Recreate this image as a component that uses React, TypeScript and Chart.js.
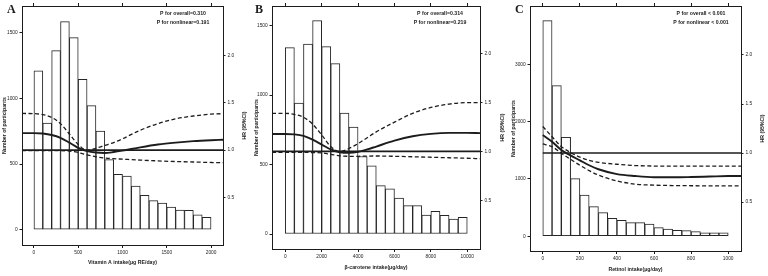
import React, { useEffect, useRef } from 'react';
import { Chart, registerables } from 'chart.js';

Chart.register(...registerables);

const FONT = "'Liberation Sans', Arial, sans-serif";
const SERIF = "'Liberation Serif', 'Times New Roman', serif";
const INK = '#1c1c1c';

// ---------- shared ----------
const HR_TICKS = [0.5, 1.0, 1.5, 2.0];
const REF_HR = 1.0;
const COUNT_TITLE = 'Number of participants';
const HR_TITLE = 'HR (95%CI)';

// ---------- Panel A: Vitamin A ----------
const A_BIN_CENTERS = [50, 150, 250, 350, 450, 550, 650, 750, 850, 950, 1050, 1150, 1250, 1350, 1450, 1550, 1650, 1750, 1850, 1950];
const A_COUNTS = [1208, 812, 1362, 1583, 1461, 1144, 944, 751, 533, 422, 409, 333, 262, 221, 203, 173, 150, 148, 114, 95];
const A_CURVE_X = [-135, 0, 100, 200, 300, 400, 500, 600, 700, 800, 900, 1000, 1200, 1400, 1600, 1800, 2000, 2135];
const A_HR = [1.18, 1.18, 1.175, 1.16, 1.13, 1.08, 1.025, 0.99, 0.975, 0.97, 0.98, 0.995, 1.03, 1.06, 1.08, 1.095, 1.105, 1.11];
const A_HR_HIGH = [1.387, 1.385, 1.375, 1.345, 1.28, 1.17, 1.06, 1.0, 1.02, 1.05, 1.08, 1.12, 1.21, 1.28, 1.33, 1.36, 1.38, 1.385];
const A_HR_LOW = [0.995, 0.995, 0.995, 0.995, 0.995, 0.99, 0.975, 0.95, 0.93, 0.918, 0.91, 0.905, 0.895, 0.887, 0.88, 0.875, 0.87, 0.868];
const A_REF_X = [-135, 2135];
const A_X_TICKS = [0, 500, 1000, 1500, 2000];
const A_COUNT_TICKS = [0, 500, 1000, 1500];
const A_X_TITLE = 'Vitamin A intake(μg RE/day)';
const A_P_TEXT = ['P for overall=0.310', 'P for nonlinear=0.191'];

// ---------- Panel B: beta-carotene ----------
const B_BIN_CENTERS = [250, 750, 1250, 1750, 2250, 2750, 3250, 3750, 4250, 4750, 5250, 5750, 6250, 6750, 7250, 7750, 8250, 8750, 9250, 9750];
const B_COUNTS = [1342, 942, 1367, 1537, 1350, 1227, 870, 770, 558, 491, 348, 326, 259, 204, 204, 137, 163, 134, 108, 120];
const B_CURVE_X = [-730, 0, 500, 1000, 1500, 2000, 2500, 3000, 3500, 4000, 4500, 5000, 6000, 7000, 8000, 9000, 10000, 10700];
const B_HR = [1.178, 1.178, 1.175, 1.16, 1.12, 1.07, 1.02, 0.99, 0.985, 0.995, 1.02, 1.05, 1.11, 1.155, 1.18, 1.19, 1.19, 1.187];
const B_HR_HIGH = [1.39, 1.39, 1.38, 1.35, 1.28, 1.17, 1.05, 1.0, 1.03, 1.08, 1.14, 1.2, 1.3, 1.39, 1.45, 1.485, 1.5, 1.5];
const B_HR_LOW = [0.99, 0.99, 0.99, 0.99, 0.988, 0.985, 0.97, 0.955, 0.95, 0.95, 0.952, 0.953, 0.95, 0.945, 0.94, 0.935, 0.93, 0.925];
const B_REF_X = [-730, 10700];
const B_X_TICKS = [0, 2000, 4000, 6000, 8000, 10000];
const B_COUNT_TICKS = [0, 500, 1000, 1500];
const B_X_TITLE = 'β-carotene intake(μg/day)';
const B_P_TEXT = ['P for overall=0.314', 'P for nonlinear=0.219'];

// ---------- Panel C: Retinol ----------
const C_BIN_CENTERS = [25, 75, 125, 175, 225, 275, 325, 375, 425, 475, 525, 575, 625, 675, 725, 775, 825, 875, 925, 975];
const C_COUNTS = [3763, 2628, 1728, 1005, 721, 517, 412, 314, 279, 237, 237, 215, 150, 127, 104, 98, 81, 60, 58, 58];
const C_CURVE_X = [0, 50, 100, 150, 200, 250, 300, 400, 500, 600, 700, 800, 900, 1000, 1069];
const C_HR = [1.184, 1.115, 1.03, 0.975, 0.925, 0.875, 0.834, 0.785, 0.765, 0.753, 0.752, 0.755, 0.76, 0.765, 0.766];
const C_HR_HIGH = [1.27, 1.166, 1.065, 1.005, 0.958, 0.925, 0.905, 0.885, 0.872, 0.867, 0.866, 0.866, 0.866, 0.866, 0.866];
const C_HR_LOW = [1.092, 1.064, 0.998, 0.935, 0.875, 0.82, 0.775, 0.715, 0.682, 0.672, 0.668, 0.666, 0.665, 0.664, 0.664];
const C_REF_X = [0, 1069];
const C_X_TICKS = [0, 200, 400, 600, 800, 1000];
const C_COUNT_TICKS = [0, 1000, 2000, 3000];
const C_X_TITLE = 'Retinol intake(μg/day)';
const C_P_TEXT = ['P for overall < 0.001', 'P for nonlinear < 0.001'];

type PanelSpec = {
  letter: string;
  canvasLeft: number; canvasWidth: number;
  boxLeft: number; boxRight: number; boxTop: number; boxBottom: number;
  xMin: number; xMax: number; countMin: number; countMax: number; hrMin: number; hrMax: number;
  binCenters: number[]; counts: number[];
  curveX: number[]; hr: number[]; hrLow: number[]; hrHigh: number[];
  refX: number[];
  xTicks: number[]; countTicks: number[];
  xTitle: string; pText: string[];
  leftTitleX: number; rightTitleX: number; xTitleY: number; letterX: number;
};

const H = 276;

const PANELS: PanelSpec[] = [
  {
    letter: 'A', canvasLeft: 0, canvasWidth: 250,
    boxLeft: 22, boxRight: 223, boxTop: 6, boxBottom: 245,
    xMin: -135, xMax: 2135, countMin: -116, countMax: 1702, hrMin: 0, hrMax: 2.52,
    binCenters: A_BIN_CENTERS, counts: A_COUNTS,
    curveX: A_CURVE_X, hr: A_HR, hrLow: A_HR_LOW, hrHigh: A_HR_HIGH, refX: A_REF_X,
    xTicks: A_X_TICKS, countTicks: A_COUNT_TICKS, xTitle: A_X_TITLE, pText: A_P_TEXT,
    leftTitleX: 4.5, rightTitleX: 245, xTitleY: 263, letterX: 7,
  },
  {
    letter: 'B', canvasLeft: 250, canvasWidth: 257,
    boxLeft: 272, boxRight: 480, boxTop: 6, boxBottom: 249,
    xMin: -730, xMax: 10700, countMin: -108, countMax: 1642, hrMin: 0, hrMax: 2.49,
    binCenters: B_BIN_CENTERS, counts: B_COUNTS,
    curveX: B_CURVE_X, hr: B_HR, hrLow: B_HR_LOW, hrHigh: B_HR_HIGH, refX: B_REF_X,
    xTicks: B_X_TICKS, countTicks: B_COUNT_TICKS, xTitle: B_X_TITLE, pText: B_P_TEXT,
    leftTitleX: 257, rightTitleX: 503, xTitleY: 267.3, letterX: 255,
  },
  {
    letter: 'C', canvasLeft: 507, canvasWidth: 261,
    boxLeft: 530, boxRight: 741, boxTop: 6, boxBottom: 251,
    xMin: -69, xMax: 1069, countMin: -257, countMax: 4019, hrMin: 0, hrMax: 2.5,
    binCenters: C_BIN_CENTERS, counts: C_COUNTS,
    curveX: C_CURVE_X, hr: C_HR, hrLow: C_HR_LOW, hrHigh: C_HR_HIGH, refX: C_REF_X,
    xTicks: C_X_TICKS, countTicks: C_COUNT_TICKS, xTitle: C_X_TITLE, pText: C_P_TEXT,
    leftTitleX: 514, rightTitleX: 763, xTitleY: 270, letterX: 515,
  },
];

const TICK_FONT = { family: FONT, size: 4.8 };
const TITLE_FONT = { family: FONT, size: 5.2, weight: 'bold' as const };

function Panel({ p }: { p: PanelSpec }) {
  const ref = useRef<HTMLCanvasElement | null>(null);

  useEffect(() => {
    if (!ref.current) return;
    const titleLH = TITLE_FONT.size * 1.2;
    const grid = {
      display: true, drawOnChartArea: false, drawTicks: true, tickLength: 2.5,
      color: INK, lineWidth: 1, offset: false,
    };
    const border = { display: true, color: INK, width: 1 };
    const lineBase = {
      type: 'line' as const, xAxisID: 'x', yAxisID: 'y2', pointRadius: 0,
      borderColor: INK, fill: false, cubicInterpolationMode: 'monotone' as const,
    };

    const overlay = {
      id: 'overlay',
      afterDraw(chart: any) {
        const ctx = chart.ctx as CanvasRenderingContext2D;
        const { top, bottom, right } = chart.chartArea;
        ctx.save();
        ctx.fillStyle = INK;
        ctx.font = `bold 5.2px ${FONT}`;
        ctx.textAlign = 'center';
        ctx.textBaseline = 'middle';
        p.pText.forEach((t, i) => ctx.fillText(t, right - 40, 13.5 + i * 9.3));
        ctx.translate(p.rightTitleX - p.canvasLeft, (top + bottom) / 2);
        ctx.rotate(-Math.PI / 2);
        ctx.fillText(HR_TITLE, 0, 0);
        ctx.restore();
        ctx.save();
        ctx.fillStyle = INK;
        ctx.font = `bold 12px ${SERIF}`;
        ctx.textAlign = 'left';
        ctx.textBaseline = 'alphabetic';
        ctx.fillText(p.letter, p.letterX - p.canvasLeft, 12.5);
        ctx.restore();
      },
    };

    const chart = new Chart(ref.current, {
      type: 'bar',
      data: {
        datasets: [
          {
            ...lineBase, data: p.refX.map((x) => ({ x, y: REF_HR })),
            borderWidth: 1.6, order: 1,
          },
          {
            ...lineBase, data: p.curveX.map((x, i) => ({ x, y: p.hr[i] })),
            borderWidth: 1.9, order: 0,
          },
          {
            ...lineBase, data: p.curveX.map((x, i) => ({ x, y: p.hrHigh[i] })),
            borderWidth: 1.3, borderDash: [4, 2.5], order: 0,
          },
          {
            ...lineBase, data: p.curveX.map((x, i) => ({ x, y: p.hrLow[i] })),
            borderWidth: 1.3, borderDash: [4, 2.5], order: 0,
          },
          {
            type: 'bar', xAxisID: 'x', yAxisID: 'y',
            data: p.binCenters.map((x, i) => ({ x, y: p.counts[i] })),
            backgroundColor: '#ffffff', borderColor: '#262626', borderWidth: 1,
            borderSkipped: false, barPercentage: 1, categoryPercentage: 1, order: 5,
          } as any,
        ],
      },
      options: {
        animation: false,
        responsive: false,
        devicePixelRatio: 1,
        events: [],
        layout: { padding: 0 },
        plugins: { legend: { display: false }, tooltip: { enabled: false }, title: { display: false } },
        scales: {
          x: {
            type: 'linear', position: 'bottom', min: p.xMin, max: p.xMax, offset: false,
            afterBuildTicks: (s: any) => { s.ticks = p.xTicks.map((v) => ({ value: v })); },
            afterFit: (s: any) => { s.height = H - p.boxBottom; },
            grid: { ...grid, tickLength: 3 }, border,
            ticks: {
              font: TICK_FONT, color: INK, padding: 2, maxRotation: 0, autoSkip: false,
              callback: (v: any) => String(v),
            },
            title: {
              display: true, text: p.xTitle, font: TITLE_FONT, color: INK,
              padding: { top: 0, bottom: H - p.xTitleY - titleLH / 2 },
            },
          },
          x2: {
            type: 'linear', position: 'top', min: p.xMin, max: p.xMax, offset: false,
            afterBuildTicks: (s: any) => { s.ticks = p.xTicks.map((v) => ({ value: v })); },
            afterFit: (s: any) => { s.height = p.boxTop; },
            grid: { ...grid, tickLength: 3 }, border,
            ticks: { display: false },
          },
          y: {
            type: 'linear', position: 'left', min: p.countMin, max: p.countMax,
            afterBuildTicks: (s: any) => { s.ticks = p.countTicks.map((v) => ({ value: v })); },
            afterFit: (s: any) => { s.width = p.boxLeft - p.canvasLeft; },
            grid, border,
            ticks: { font: TICK_FONT, color: INK, padding: 1.8, callback: (v: any) => String(v) },
            title: {
              display: true, text: COUNT_TITLE, font: TITLE_FONT, color: INK,
              padding: { top: p.leftTitleX - p.canvasLeft - titleLH / 2, bottom: 0 },
            },
          },
          y2: {
            type: 'linear', position: 'right', min: p.hrMin, max: p.hrMax,
            afterBuildTicks: (s: any) => { s.ticks = HR_TICKS.map((v) => ({ value: v })); },
            afterFit: (s: any) => { s.width = p.canvasLeft + p.canvasWidth - p.boxRight; },
            grid, border,
            ticks: { font: TICK_FONT, color: INK, padding: 2, callback: (v: any) => Number(v).toFixed(1) },
          },
        },
      } as any,
      plugins: [overlay],
    });
    return () => chart.destroy();
  }, [p]);

  return (
    <canvas
      ref={ref}
      width={p.canvasWidth}
      height={H}
      style={{ position: 'absolute', left: p.canvasLeft, top: 0, width: p.canvasWidth, height: H }}
    />
  );
}

export default function App() {
  return (
    <div style={{ position: 'absolute', left: 0, top: 0, width: 768, height: H, background: '#ffffff', overflow: 'hidden' }}>
      {PANELS.map((p) => <Panel key={p.letter} p={p} />)}
    </div>
  );
}
